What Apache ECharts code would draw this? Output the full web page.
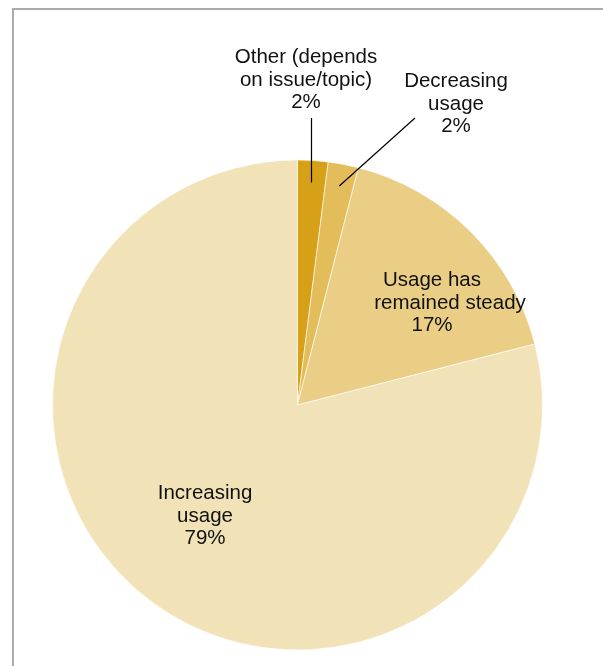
<!DOCTYPE html>
<html>
<head>
<meta charset="utf-8">
<script src="https://cdn.jsdelivr.net/npm/echarts@6/dist/echarts.min.js"></script>
<style>
  html, body { margin: 0; padding: 0; background: #fff; }
  #chart { width: 603px; height: 666px; }
</style>
</head>
<body>
<div id="chart"></div>
<script>
// Survey answers: how usage has changed
const categories = [
  'Other (depends\non issue/topic)',
  'Decreasing\nusage',
  'Usage has\nremained steady',
  'Increasing\nusage'
];
const shares = [2, 2, 17, 79];
const sliceColors = ['#D6A117', '#E4BD5B', '#EACE86', '#F2E2B8'];

const CX = 297.5, CY = 405, R = 245;

// where each label block is centred
const labelSpots = [
  [306, 80],
  [456, 104],
  [432, 303],
  [205, 516]
];
// top end of the leader line for the two thin slices (null x = straight up)
const leaderEnds = [
  [null, 118],
  [415, 118],
  null,
  null
];

const total = shares.reduce((a, b) => a + b, 0);
function midAngle(i) {
  let before = 0;
  for (let k = 0; k < i; k++) before += shares[k];
  return (before + shares[i] / 2) / total * Math.PI * 2;
}

// leader lines run from inside the slice up to the label
const leaderLines = [];
shares.forEach((v, i) => {
  const end = leaderEnds[i];
  if (!end) return;
  const a = midAngle(i);
  const r0 = R - 22;
  const sx = CX + r0 * Math.sin(a);
  const sy = CY - r0 * Math.cos(a);
  const ex = end[0] == null ? sx : end[0];
  leaderLines.push({
    type: 'line',
    shape: { x1: sx, y1: sy, x2: ex, y2: end[1] },
    style: { stroke: '#000', lineWidth: 1.2 },
    silent: true,
    z: 10
  });
});

function labelText(p) {
  const lines = p.name.split('\n');
  // the middle line of the "steady" label sits a little to the right
  if (p.dataIndex === 2) {
    return lines[0] + '\n{shift|' + lines[1] + '}\n' + p.value + '%';
  }
  return p.name + '\n' + p.value + '%';
}

const chart = echarts.init(document.getElementById('chart'), null, { renderer: 'canvas' });

chart.setOption({
  animation: false,
  graphic: [{
    type: 'rect',
    shape: { x: 13, y: 9, width: 700, height: 700 },
    style: { fill: 'none', stroke: '#ababab', lineWidth: 2 },
    silent: true,
    z: -1
  }].concat(leaderLines),
  series: [{
    type: 'pie',
    center: [CX, CY],
    radius: R,
    startAngle: 90,
    clockwise: true,
    avoidLabelOverlap: false,
    itemStyle: { borderColor: '#ffffff', borderWidth: 0.6 },
    label: {
      show: true,
      position: 'outside',
      formatter: labelText,
      fontFamily: 'Liberation Sans, Arial, sans-serif',
      fontSize: 20.5,
      lineHeight: 22.5,
      color: '#111',
      align: 'center',
      rich: {
        shift: {
          fontFamily: 'Liberation Sans, Arial, sans-serif',
          fontSize: 20.5,
          lineHeight: 22.5,
          color: '#111',
          padding: [0, 0, 0, 36]
        }
      }
    },
    labelLine: { show: false },
    labelLayout: function (params) {
      const spot = labelSpots[params.dataIndex];
      return {
        x: spot[0],
        y: spot[1],
        align: 'center',
        verticalAlign: 'middle'
      };
    },
    data: categories.map((name, i) => ({
      name: name,
      value: shares[i],
      itemStyle: { color: sliceColors[i] }
    }))
  }]
});
</script>
</body>
</html>
